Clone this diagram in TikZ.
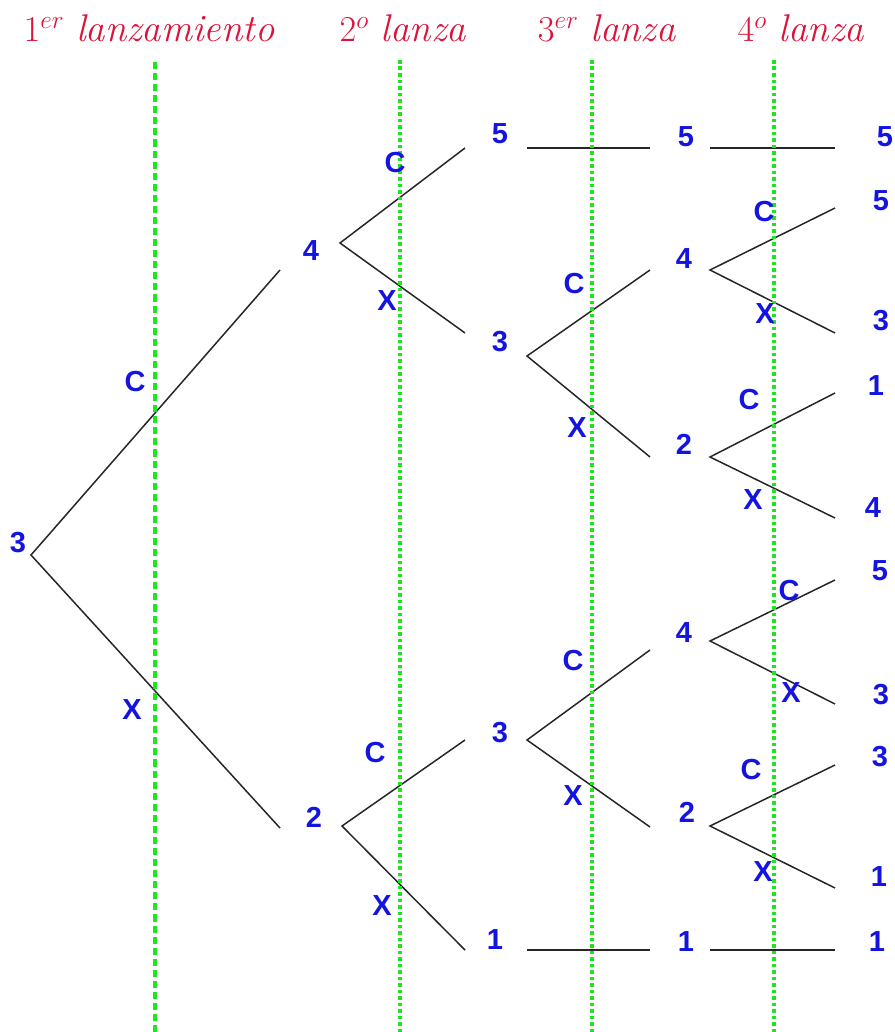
\documentclass[tikz,border=0pt]{standalone}
\usepackage{fontspec}
\newfontfamily\etiq{Liberation Sans}

\definecolor{azul}{RGB}{20,20,225}
\definecolor{carmin}{RGB}{220,20,60}
\definecolor{verde}{RGB}{30,230,30}

\begin{document}
\begin{tikzpicture}[x=0.2mm, y=-0.2mm,
		num/.style={azul, font=\etiq\fontsize{16.5}{18}\selectfont\bfseries},
		rama/.style={black!85, line width=0.85pt},
		guia/.style={verde, line width=2.2pt, dash pattern=on 2pt off 1.7pt},
		titulo/.style={carmin, anchor=base, font=\fontsize{22}{26}\selectfont}]
		\useasboundingbox (0, 0) rectangle (895, 1032);
		
		% titulos de cada lanzamiento
		\node[titulo] (t1) at (149, 42) {$1^{er}$ \textit{lanzamiento}};
		\node[titulo] (t2) at (403, 42) {$2^{o}$ \textit{lanza}};
		\node[titulo] (t3) at (607, 42) {$3^{er}$ \textit{lanza}};
		\node[titulo] (t4) at (801, 42) {$4^{o}$ \textit{lanza}};
		
		% nodos del arbol
		\node[num] (r) at (18, 543) {3};
		\node[num] (a) at (311, 251) {4};
		\node[num] (b) at (314, 817) {2};
		\node[num] (aa) at (500, 134) {5};
		\node[num] (ab) at (500, 342) {3};
		\node[num] (ba) at (500, 733) {3};
		\node[num] (bb) at (495, 940) {1};
		\node[num] (aaa) at (686, 137) {5};
		\node[num] (aba) at (684, 259) {4};
		\node[num] (abb) at (684, 444) {2};
		\node[num] (baa) at (684, 633) {4};
		\node[num] (bab) at (687, 812) {2};
		\node[num] (bba) at (686, 942) {1};
		\node[num] (aaaa) at (885, 137) {5};
		\node[num] (abaa) at (881, 201) {5};
		\node[num] (abab) at (881, 321) {3};
		\node[num] (abba) at (876, 386) {1};
		\node[num] (abbb) at (873, 508) {4};
		\node[num] (baaa) at (880, 571) {5};
		\node[num] (baab) at (881, 695) {3};
		\node[num] (baba) at (880, 757) {3};
		\node[num] (babb) at (879, 877) {1};
		\node[num] (bbaa) at (877, 942) {1};
		
		% puntos donde llegan (e) y salen (s) las ramas
		\coordinate (r-s) at (31, 555);
		\coordinate (a-e) at (280, 270);
		\coordinate (a-s) at (340, 243);
		\coordinate (b-e) at (280, 828);
		\coordinate (b-s) at (342, 826);
		\coordinate (aa-e) at (465, 148);
		\coordinate (aa-s) at (527, 148);
		\coordinate (ab-e) at (465, 333);
		\coordinate (ab-s) at (527, 356);
		\coordinate (ba-e) at (465, 740);
		\coordinate (ba-s) at (527, 740);
		\coordinate (bb-e) at (465, 950);
		\coordinate (bb-s) at (527, 950);
		\coordinate (aaa-e) at (650, 148);
		\coordinate (aaa-s) at (710, 148);
		\coordinate (aba-e) at (650, 270);
		\coordinate (aba-s) at (710, 270);
		\coordinate (abb-e) at (650, 457);
		\coordinate (abb-s) at (710, 457);
		\coordinate (baa-e) at (650, 650);
		\coordinate (baa-s) at (710, 641);
		\coordinate (bab-e) at (650, 827);
		\coordinate (bab-s) at (710, 826);
		\coordinate (bba-e) at (650, 950);
		\coordinate (bba-s) at (710, 950);
		\coordinate (aaaa-e) at (835, 148);
		\coordinate (abaa-e) at (835, 208);
		\coordinate (abab-e) at (835, 333);
		\coordinate (abba-e) at (835, 393);
		\coordinate (abbb-e) at (835, 518);
		\coordinate (baaa-e) at (835, 580);
		\coordinate (baab-e) at (835, 704);
		\coordinate (baba-e) at (835, 765);
		\coordinate (babb-e) at (835, 888);
		\coordinate (bbaa-e) at (835, 950);
		
		% ramas
		\draw[rama] (a-e) -- (r-s) -- (b-e);
		\draw[rama] (aa-e) -- (a-s) -- (ab-e);
		\draw[rama] (ba-e) -- (b-s) -- (bb-e);
		\draw[rama] (aa-s) -- (aaa-e);
		\draw[rama] (aba-e) -- (ab-s) -- (abb-e);
		\draw[rama] (baa-e) -- (ba-s) -- (bab-e);
		\draw[rama] (bb-s) -- (bba-e);
		\draw[rama] (aaa-s) -- (aaaa-e);
		\draw[rama] (abaa-e) -- (aba-s) -- (abab-e);
		\draw[rama] (abba-e) -- (abb-s) -- (abbb-e);
		\draw[rama] (baaa-e) -- (baa-s) -- (baab-e);
		\draw[rama] (baba-e) -- (bab-s) -- (babb-e);
		\draw[rama] (bba-s) -- (bbaa-e);
		
		% lineas de cada lanzamiento
		\coordinate (g1) at (155, 62);
		\coordinate (g2) at (400, 60);
		\coordinate (g3) at (592, 60);
		\coordinate (g4) at (774, 60);
		\draw[verde, line width=2.3pt, dash pattern=on 4pt off 2.3pt] (g1) -- (g1 |- 0, 1032);
		\draw[guia] (g2) -- (g2 |- 0, 1032);
		\draw[guia] (g3) -- (g3 |- 0, 1032);
		\draw[guia] (g4) -- (g4 |- 0, 1032);
		
		% cara (C) o cruz (X)
		\node[num] (c1) at (135, 382) {C};
		\node[num] (x1) at (132, 710) {X};
		\node[num] (c2a) at (395, 163) {C};
		\node[num] (x2a) at (387, 301) {X};
		\node[num] (c2b) at (375, 753) {C};
		\node[num] (x2b) at (382, 906) {X};
		\node[num] (c3a) at (574, 284) {C};
		\node[num] (x3a) at (577, 428) {X};
		\node[num] (c3b) at (573, 661) {C};
		\node[num] (x3b) at (573, 796) {X};
		\node[num] (c4a) at (764, 212) {C};
		\node[num] (x4a) at (765, 314) {X};
		\node[num] (c4b) at (749, 400) {C};
		\node[num] (x4b) at (753, 500) {X};
		\node[num] (c4c) at (789, 591) {C};
		\node[num] (x4c) at (791, 693) {X};
		\node[num] (c4d) at (751, 770) {C};
		\node[num] (x4d) at (763, 872) {X};
	\end{tikzpicture}
\end{document}
